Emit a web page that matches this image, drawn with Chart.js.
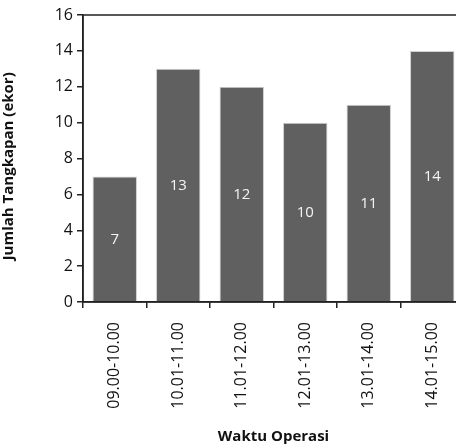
<!DOCTYPE html>
<html>
<head>
<meta charset="utf-8">
<script src="https://cdn.jsdelivr.net/npm/chart.js@4"></script>
<style>
  html, body { margin: 0; padding: 0; background: #fff; overflow: hidden; }
  /* area plot asli terpotong di kanan, jadi kanvas sedikit lebih lebar */
  #wrap { width: 464px; height: 448px; }
</style>
</head>
<body>
<div id="wrap"><canvas id="chart-tangkapan"></canvas></div>
<script>
// data dari grafik
const waktu = ["09.00-10.00", "10.01-11.00", "11.01-12.00", "12.01-13.00", "13.01-14.00", "14.01-15.00"];
const tangkapan = [7, 13, 12, 10, 11, 14];
const yTicks = [0, 2, 4, 6, 8, 10, 12, 14, 16];

const FONT = "'Open Sans', sans-serif";

// garis kotak di sekitar area plot
const framePlugin = {
  id: "frame",
  afterDraw(chart) {
    const { ctx, chartArea: a } = chart;
    ctx.save();
    ctx.strokeStyle = "#222";
    ctx.lineWidth = 1.5;
    ctx.strokeRect(a.left, a.top, a.right - a.left, a.bottom - a.top);
    ctx.restore();
  },
};

// angka di tengah batang
const labelPlugin = {
  id: "barLabels",
  afterDatasetsDraw(chart) {
    const { ctx } = chart;
    const meta = chart.getDatasetMeta(0);
    ctx.save();
    ctx.fillStyle = "#f4f4f4";
    ctx.font = "15px " + FONT;
    ctx.textAlign = "center";
    ctx.textBaseline = "middle";
    meta.data.forEach((bar, i) => {
      const p = bar.getProps(["x", "y", "base"], true);
      ctx.fillText(tangkapan[i], p.x, (p.y + p.base) / 2 + 1);
    });
    ctx.restore();
  },
};

new Chart(document.getElementById("chart-tangkapan"), {
  type: "bar",
  data: {
    labels: waktu,
    datasets: [
      {
        data: tangkapan,
        backgroundColor: "#606060",
        borderColor: "#d0d0d0",
        borderWidth: { top: 1, left: 1, right: 1, bottom: 0 },
        categoryPercentage: 0.7,
        barPercentage: 1,
      },
    ],
  },
  options: {
    responsive: true,
    maintainAspectRatio: false,
    animation: false,
    layout: { padding: { top: 15, right: 0, left: 0, bottom: 0 } },
    plugins: {
      legend: { display: false },
      tooltip: { enabled: false },
    },
    scales: {
      x: {
        grid: { drawOnChartArea: false, color: "#222", tickLength: 6, lineWidth: 1.5 },
        border: { color: "#222", width: 1.5 },
        ticks: {
          color: "#111",
          font: { family: FONT, size: 16 },
          minRotation: 90,
          maxRotation: 90,
          padding: 14,
        },
        title: {
          display: true,
          text: "Waktu Operasi",
          color: "#111",
          font: { family: FONT, size: 15, weight: "bold" },
          padding: { top: 0, bottom: 2 },
        },
        afterFit(scale) {
          scale.height = 146;
          scale.paddingLeft = 0;
          scale.paddingRight = 0;
        },
      },
      y: {
        min: 0,
        max: 16,
        afterBuildTicks(scale) { scale.ticks = yTicks.map(v => ({ value: v })); },
        grid: { drawOnChartArea: false, color: "#222", tickLength: 6, lineWidth: 1.5 },
        border: { color: "#222", width: 1.5 },
        ticks: {
          color: "#111",
          font: { family: FONT, size: 16 },
          padding: 4,
        },
        title: {
          display: true,
          text: "Jumlah Tangkapan (ekor)    ",
          color: "#111",
          font: { family: FONT, size: 15, weight: "bold" },
          padding: { top: 0, bottom: 4 },
        },
        afterFit(scale) {
          scale.width = 83;
          scale.paddingTop = 0;
          scale.paddingBottom = 0;
        },
      },
    },
  },
  plugins: [framePlugin, labelPlugin],
});
</script>
</body>
</html>
